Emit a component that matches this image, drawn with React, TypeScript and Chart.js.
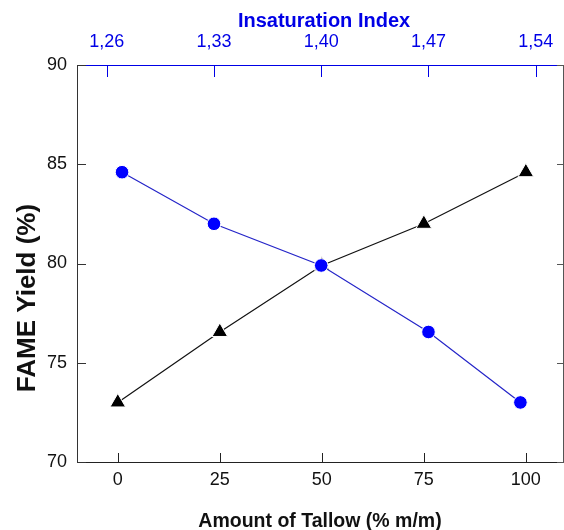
import React, { useEffect, useRef } from 'react';
import { Chart, registerables } from 'chart.js';

Chart.register(...registerables);

// ---- data ----
const tallowPct = [0, 25, 50, 75, 100];
const yieldByTallow = [73.0, 76.55, 79.9, 82.0, 84.6];
const insaturationIndex = [1.27, 1.33, 1.4, 1.47, 1.53];
const yieldByIndex = [84.6, 82.0, 79.9, 76.55, 73.0];

const tallowTicks = [0, 25, 50, 75, 100];
const indexTicks = [1.26, 1.33, 1.4, 1.47, 1.54];
const yieldTicks = [70, 75, 80, 85, 90];

const xTitle = 'Amount of Tallow (% m/m)';
const x2Title = 'Insaturation Index';
const yTitle = 'FAME Yield (%)';

const FONT = '"Liberation Sans", Arial, Helvetica, sans-serif';
const BLUE = '#0000E6';
const BLUE_LINE = '#2424C8';

const decorPlugin = {
  id: 'decor',
  afterDraw(chart: any) {
    const ctx = chart.ctx as CanvasRenderingContext2D;
    const a = chart.chartArea;
    const s = chart.scales;
    ctx.save();
    ctx.lineWidth = 1;
    const vTick = (scale: any, x0: number, dir: number, len: number, color: string) => {
      ctx.strokeStyle = color;
      scale.ticks.forEach((t: any) => {
        const p = Math.round(scale.getPixelForValue(t.value)) + 0.5;
        ctx.beginPath();
        ctx.moveTo(x0, p);
        ctx.lineTo(x0 + dir * len, p);
        ctx.stroke();
      });
    };
    const hTick = (scale: any, y0: number, dir: number, len: number, color: string) => {
      ctx.strokeStyle = color;
      scale.ticks.forEach((t: any) => {
        const p = Math.round(scale.getPixelForValue(t.value)) + 0.5;
        ctx.beginPath();
        ctx.moveTo(p, y0);
        ctx.lineTo(p, y0 + dir * len);
        ctx.stroke();
      });
    };
    vTick(s.y, a.left, 1, 9, '#333');
    vTick(s.y2, a.right, -1, 6, '#555');
    hTick(s.x, a.bottom, -1, 9, '#222');
    hTick(s.x2, a.top, 1, 12, BLUE);

    // titles
    ctx.textAlign = 'center';
    ctx.textBaseline = 'alphabetic';
    ctx.fillStyle = '#111';
    ctx.font = `bold 19.5px ${FONT}`;
    ctx.fillText(xTitle, (a.left + a.right) / 2, 527);
    ctx.fillStyle = BLUE;
    ctx.font = `bold 20px ${FONT}`;
    ctx.fillText(x2Title, (a.left + a.right) / 2 + 4, 27);

    ctx.fillStyle = '#111';
    ctx.font = `bold 26px ${FONT}`;
    ctx.translate(27.5, 298);
    ctx.rotate(-Math.PI / 2);
    ctx.textBaseline = 'middle';
    ctx.fillText(yTitle, 0, 0);
    ctx.restore();
  },
};

const noPad = (sc: any) => {
  sc.paddingLeft = 0;
  sc.paddingRight = 0;
  sc.paddingTop = 0;
  sc.paddingBottom = 0;
};

export default function App() {
  const ref = useRef<HTMLCanvasElement>(null);

  useEffect(() => {
    document.body.style.margin = '0';
    const canvas = ref.current;
    if (!canvas) return;
    const tickFont = { family: FONT, size: 18 };
    const chart = new Chart(canvas, {
      type: 'scatter',
      data: {
        datasets: [
          {
            label: 'index',
            data: insaturationIndex.map((x, i) => ({ x, y: yieldByIndex[i] })),
            xAxisID: 'x2',
            yAxisID: 'y',
            showLine: true,
            borderColor: BLUE_LINE,
            borderWidth: 1.2,
            pointStyle: 'circle',
            pointRadius: 6.8,
            pointBackgroundColor: '#0000FF',
            pointBorderColor: '#ffffff',
            pointBorderWidth: 1,
            clip: false,
          },
          {
            label: 'tallow',
            data: tallowPct.map((x, i) => ({ x, y: yieldByTallow[i] })),
            xAxisID: 'x',
            yAxisID: 'y',
            showLine: true,
            borderColor: '#111111',
            borderWidth: 1.2,
            pointStyle: 'triangle',
            pointRadius: 9,
            pointBackgroundColor: '#000000',
            pointBorderColor: '#ffffff',
            pointBorderWidth: 1,
            clip: false,
          },
        ],
      },
      options: {
        animation: false,
        responsive: false,
        maintainAspectRatio: false,
        layout: { padding: 0, autoPadding: false },
        plugins: {
          legend: { display: false },
          tooltip: { enabled: false },
        },
        scales: {
          x: {
            type: 'linear',
            position: 'bottom',
            min: -10,
            max: 109.1,
            afterBuildTicks: (sc: any) => {
              sc.ticks = tallowTicks.map((v) => ({ value: v }));
            },
            afterFit: (sc: any) => {
              sc.height = 68;
              noPad(sc);
            },
            grid: { display: false, drawTicks: false },
            border: { display: true, color: '#222', width: 1 },
            ticks: {
              autoSkip: false,
              maxRotation: 0,
              padding: 7,
              color: '#111',
              font: tickFont,
              callback: (v: any) => String(v),
            },
          },
          x2: {
            type: 'linear',
            position: 'top',
            min: 1.2406,
            max: 1.5578,
            afterBuildTicks: (sc: any) => {
              sc.ticks = indexTicks.map((v) => ({ value: v }));
            },
            afterFit: (sc: any) => {
              sc.height = 65;
              noPad(sc);
            },
            grid: { display: false, drawTicks: false },
            border: { display: true, color: BLUE, width: 1 },
            ticks: {
              autoSkip: false,
              maxRotation: 0,
              padding: 12,
              color: BLUE,
              font: tickFont,
              callback: (v: any) => Number(v).toFixed(2).replace('.', ','),
            },
          },
          y: {
            type: 'linear',
            position: 'left',
            min: 70,
            max: 90,
            afterBuildTicks: (sc: any) => {
              sc.ticks = yieldTicks.map((v) => ({ value: v }));
            },
            afterFit: (sc: any) => {
              sc.width = 77;
              noPad(sc);
            },
            grid: { display: false, drawTicks: false },
            border: { display: true, color: '#333', width: 1 },
            ticks: {
              autoSkip: false,
              padding: 10,
              color: '#111',
              font: tickFont,
              callback: (v: any) => String(v),
            },
          },
          y2: {
            type: 'linear',
            position: 'right',
            min: 70,
            max: 90,
            afterBuildTicks: (sc: any) => {
              sc.ticks = yieldTicks.map((v) => ({ value: v }));
            },
            afterFit: (sc: any) => {
              sc.width = 1;
              noPad(sc);
            },
            grid: { display: false, drawTicks: false },
            border: { display: true, color: '#555', width: 1 },
            ticks: { display: false },
          },
        },
      },
      plugins: [decorPlugin],
    });
    return () => chart.destroy();
  }, []);

  return (
    <div style={{ width: 564, height: 530, background: '#fff' }}>
      <canvas ref={ref} width={564} height={530} style={{ display: 'block' }} />
    </div>
  );
}
